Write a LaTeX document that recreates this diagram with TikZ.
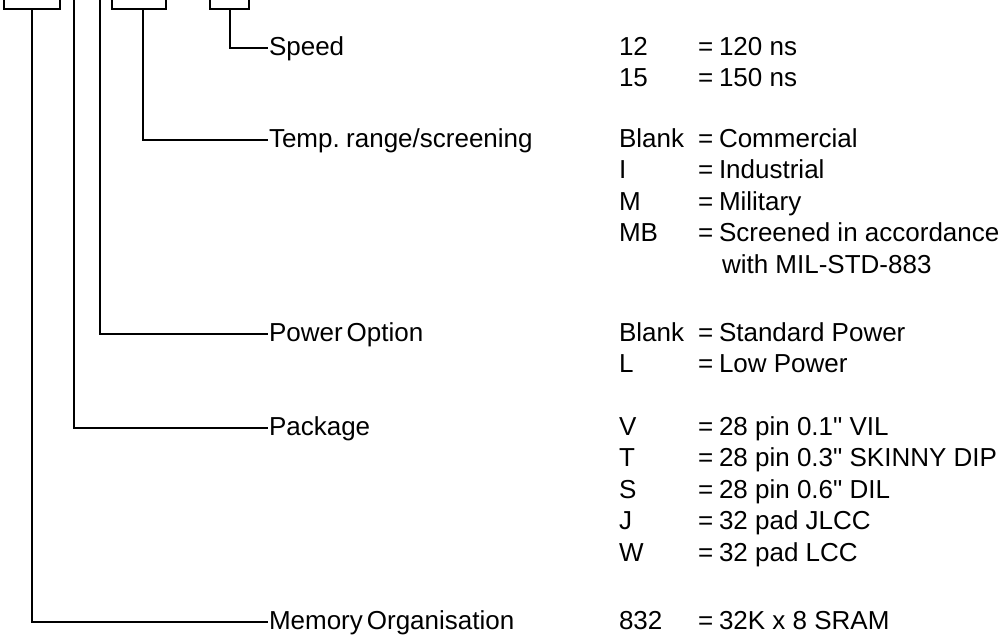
\documentclass[tikz,border=0pt]{standalone}
\usepackage{fontspec}
\setmainfont{Liberation Sans}[Ligatures=TeXOff]
\newcommand\optrow[4]{%
  \node[txt] (#1c) at (618,#2) {#3};
  \node[txt] (#1e) at (697,#2) {=};
  \node[txt] (#1v) at (718,#2) {#4};}
\newcommand\lblfont{\fontsize{26}{31}\selectfont\spaceskip=4pt plus 1pt minus 1pt\relax}
\begin{document}
\begin{tikzpicture}[x=1pt,y=-1pt,line width=2pt,
  every node/.style={font=\fontsize{26}{31}\selectfont},
  box/.style={draw,minimum width=#1,minimum height=40pt,inner sep=0pt,anchor=south},
  lbl/.style={anchor=west,inner sep=0pt,text height=19pt,text depth=5pt,font=\lblfont},
  txt/.style={anchor=base west,inner sep=0pt},
  wire/.style={line width=2pt}]
\clip (0,0) rectangle (1005,637);
\useasboundingbox (0,0) rectangle (1005,637);
% boxes at the top (cut off by the picture edge)
\node[box=56pt] (b1) at (32,10) {};
\node[box=54pt] (b2) at (139,10) {};
\node[box=39pt] (b3) at (229.5,10) {};
\coordinate (pk0) at (74,-5);
\coordinate (pw0) at (100,-5);
% field labels
\node[lbl] (speed) at (268,48) {Speed};
\node[lbl] (temp)  at (268,140) {Temp. range/screening};
\node[lbl] (power) at (268,334) {Power Option};
\node[lbl] (pack)  at (268,428) {Package};
\node[lbl] (mem)   at (268,622) {Memory Organisation};
% connectors
\draw[wire] (b3.south) |- (speed.west);
\draw[wire] ([xshift=3.5pt]b2.south) |- (temp.west);
\draw[wire] (pw0) |- (power.west);
\draw[wire] (pk0) |- (pack.west);
\draw[wire] (b1.south) |- (mem.west);
% option tables
\optrow{sa}{55}{12}{120 ns}
\optrow{sb}{86.5}{15}{150 ns}
\optrow{ta}{147}{Blank}{Commercial}
\optrow{tb}{178.5}{I}{Industrial}
\optrow{tc}{210}{M}{Military}
\optrow{td}{241.5}{MB}{Screened in accordance}
\node[txt] (tdw) at (721,273) {with MIL-STD-883};
\optrow{pa}{341}{Blank}{Standard Power}
\optrow{pb}{372.5}{L}{Low Power}
\optrow{ka}{435}{V}{28 pin 0.1" VIL}
\optrow{kb}{466.5}{T}{28 pin 0.3" SKINNY DIP}
\optrow{kc}{498}{S}{28 pin 0.6" DIL}
\optrow{kd}{529.5}{J}{32 pad JLCC}
\optrow{ke}{561}{W}{32 pad LCC}
\optrow{ma}{629}{832}{32K x 8 SRAM}
\end{tikzpicture}
\end{document}
